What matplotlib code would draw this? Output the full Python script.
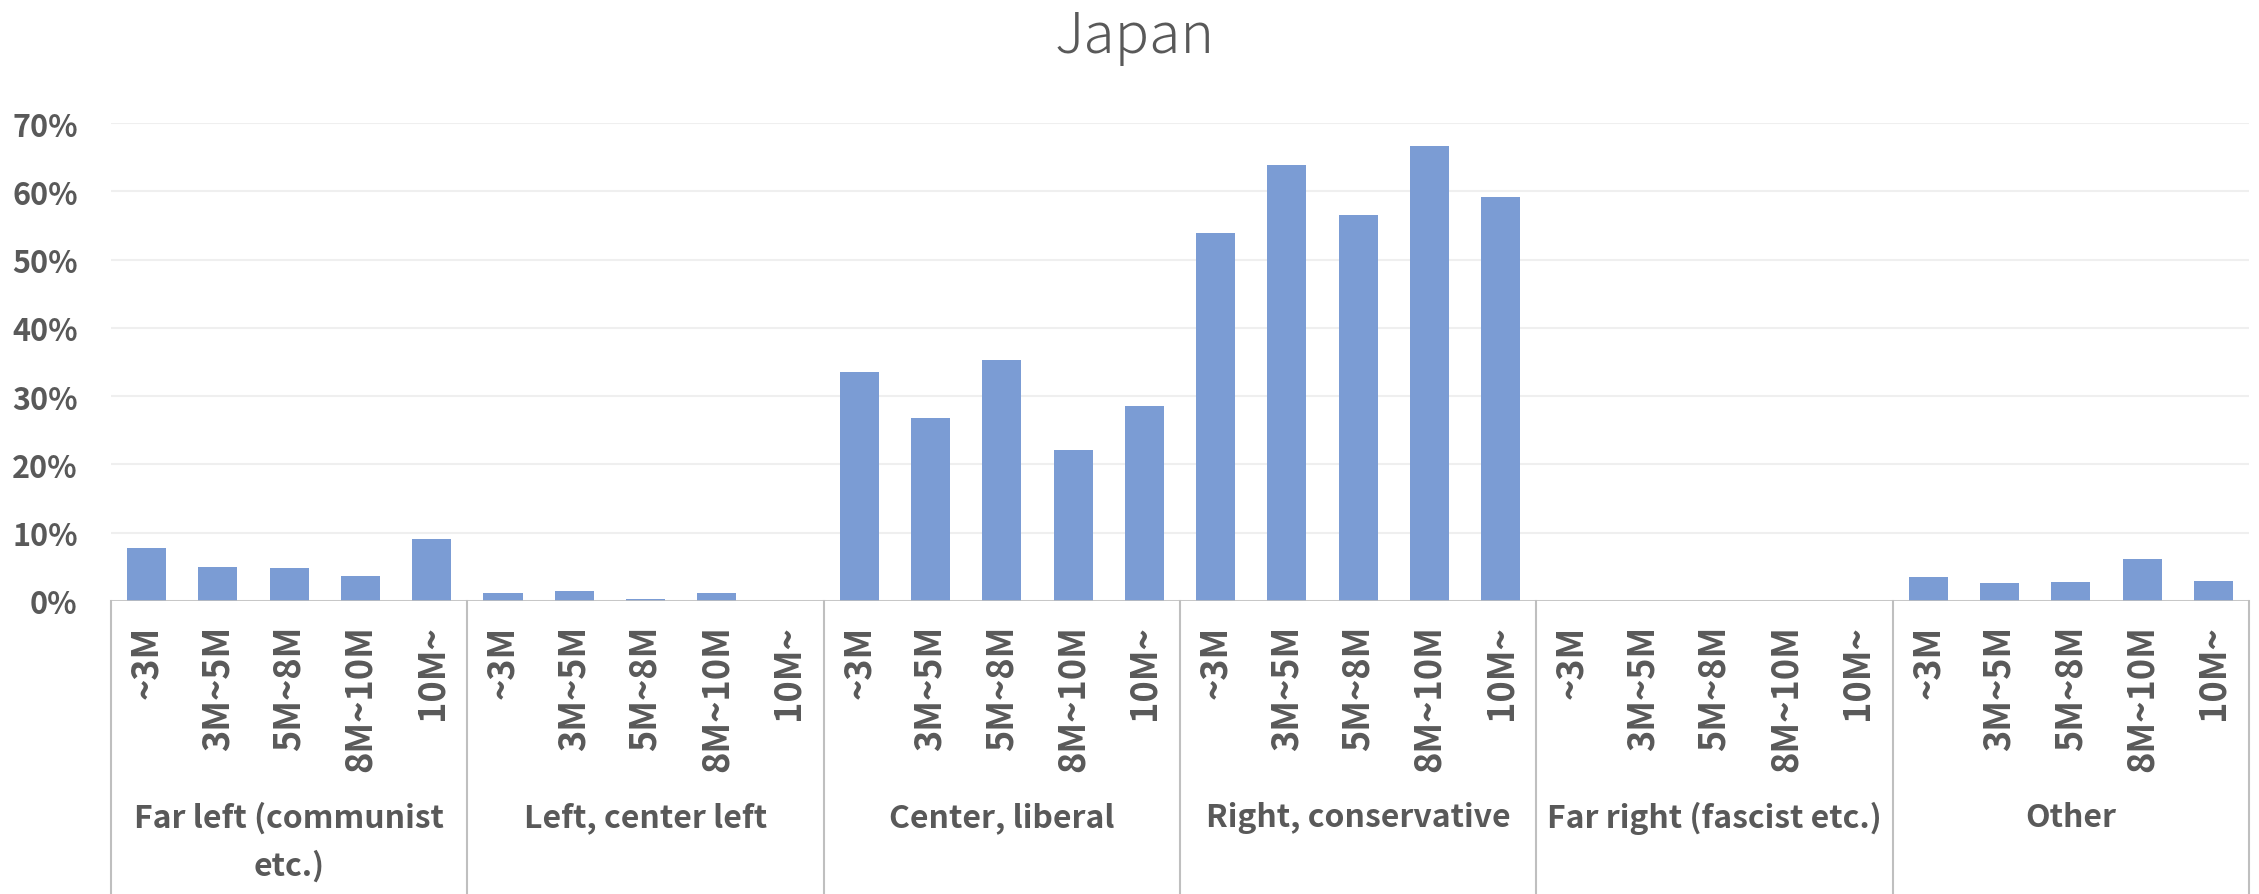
"""Japan — political leaning by household income bracket (Excel-style grouped category chart)."""

import matplotlib

matplotlib.use("Agg")
import matplotlib.pyplot as plt
import numpy as np
from matplotlib.ticker import FuncFormatter

plt.rcParams["font.family"] = ["Noto Sans CJK JP", "DejaVu Sans"]

# --- Data ---
groups = [
    "Far left (communist\netc.)",
    "Left, center left",
    "Center, liberal",
    "Right, conservative",
    "Far right (fascist etc.)",
    "Other",
]
brackets = ["~3M", "3M~5M", "5M~8M", "8M~10M", "10M~"]

far_left = [7.8, 5.0, 4.8, 3.6, 9.1]
left = [1.2, 1.5, 0.35, 1.2, 0.0]
center = [33.5, 26.8, 35.3, 22.1, 28.6]
right = [53.9, 63.8, 56.6, 66.6, 59.2]
far_right = [0.0, 0.0, 0.0, 0.0, 0.0]
other = [3.5, 2.7, 2.8, 6.2, 3.0]

yticks = [0, 10, 20, 30, 40, 50, 60, 70]

# --- Styling ---
TEXT = "#595959"
BAR = "#7B9CD4"
AXIS = "#BFBFBF"
GRID = "#EFEFEF"

values = np.array(far_left + left + center + right + far_right + other) / 100
n_per = len(brackets)
x = np.arange(len(values))

fig = plt.figure(figsize=(22.59, 8.95), dpi=100)
ax = fig.add_axes([111 / 2259, 293 / 895, (2249 - 111) / 2259, 478 / 895])

ax.bar(x, values, width=0.55, color=BAR, zorder=2)

ax.set_xlim(-0.5, len(values) - 0.5)
ax.set_ylim(0, 0.70)
ax.set_yticks([t / 100 for t in yticks])
ax.yaxis.set_major_formatter(FuncFormatter(lambda v, _: f"{v * 100:.0f}%"))
ax.tick_params(axis="y", length=0, pad=24, labelsize=22, labelcolor=TEXT)
for lbl in ax.get_yticklabels():
    lbl.set_fontweight("bold")

ax.set_xticks(x)
ax.set_xticklabels(brackets * len(groups), rotation=90, fontsize=26,
                   fontweight="bold", color=TEXT)
ax.tick_params(axis="x", length=0, pad=17)

ax.grid(axis="y", color=GRID, linewidth=1.5, zorder=0)
for s in ax.spines.values():
    s.set_visible(False)

# category axis line and group separators
ax.axhline(0, color=AXIS, linewidth=1.9, zorder=3)
for b in np.arange(-0.5, len(values), n_per):
    ax.axvline(b, ymin=-0.62, ymax=0, color=AXIS, linewidth=1.5, clip_on=False)

# group labels (top-aligned, wrap downwards)
for i, g in enumerate(groups):
    cx = i * n_per + (n_per - 1) / 2
    ax.text(cx, -200 / 478, g, transform=ax.get_xaxis_transform(),
            ha="center", va="top", fontsize=23, fontweight="bold",
            color=TEXT, linespacing=1.61)

fig.text(1135 / 2259, 1 - 53 / 895, "Japan", ha="center", va="baseline",
         fontsize=41, fontweight="light", color=TEXT)

fig.savefig("out.png", dpi=100)
plt.close(fig)
